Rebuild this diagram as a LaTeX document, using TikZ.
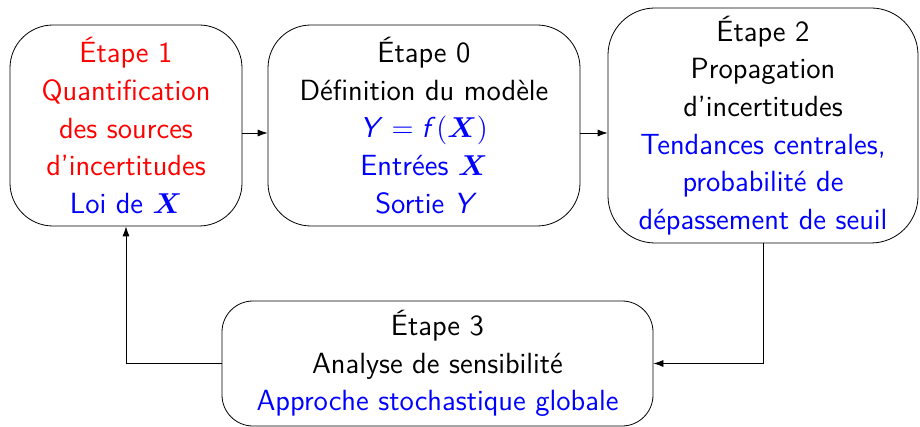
\documentclass[tikz,border=0pt]{standalone}
\usepackage{amsmath}
\usepackage{fontspec}
\renewcommand{\familydefault}{\sfdefault}
\DeclareMathAlphabet{\mathsfit}{OT1}{cmss}{m}{sl}
\usetikzlibrary{arrows.meta}
\tikzset{
  stepbox/.style={draw, rounded corners=21.5pt, inner sep=0pt, align=center, font=\fontsize{14.6pt}{18.8pt}\selectfont},
  arr/.style={-{Latex[length=5pt,width=3.5pt]}},
}
\newcommand{\bX}{$\boldsymbol{X}$}
\begin{document}
\begin{tikzpicture}[x=0.5pt,y=-0.5pt]
\useasboundingbox (0,0) rectangle (920,427);
\node[stepbox, minimum width=116pt, minimum height=100.5pt] (b1) at (126,125.5)
  {\textcolor{red}{Étape 1}\\\textcolor{red}{Quantification}\\\textcolor{red}{des sources}\\\textcolor{red}{d'incertitudes}\\\textcolor{blue}{Loi de \bX}};
\node[stepbox, minimum width=156pt, minimum height=100.5pt] (b0) at (424,125.5)
  {Étape 0\\Définition du modèle\\\textcolor{blue}{$\mathsfit{Y} = \mathsfit{f}(\boldsymbol{X})$}\\\textcolor{blue}{Entrées \bX}\\\textcolor{blue}{Sortie {\itshape Y}}};
\node[stepbox, rounded corners=23.5pt, minimum width=155pt, minimum height=117.5pt] (b2) at (763,125.5)
  {Étape 2\\Propagation\\d'incertitudes\\\textcolor{blue}{Tendances centrales,}\\\textcolor{blue}{probabilité de}\\\textcolor{blue}{dépassement de seuil}};
\node[stepbox, rounded corners=15.5pt, minimum width=215.5pt, minimum height=62.5pt] (b3) at (437.5,363.5)
  {Étape 3\\Analyse de sensibilité\\\textcolor{blue}{Approche stochastique globale}};
\draw[arr] ([yshift=-3.75pt]b1.east) -- ([yshift=-3.75pt]b0.west);
\draw[arr] ([yshift=-3.75pt]b0.east) -- ([yshift=-3.75pt]b2.west);
\draw[arr] (b2.south) |- (b3.east);
\draw[arr] (b3.west) -| (b1.south);
\end{tikzpicture}
\end{document}
